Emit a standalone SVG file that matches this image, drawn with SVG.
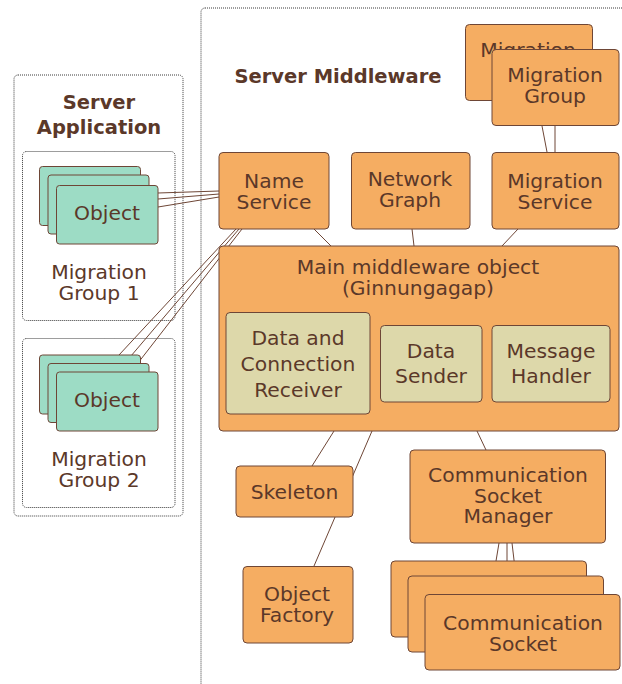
<svg xmlns="http://www.w3.org/2000/svg" width="622" height="684" viewBox="0 0 622 684">
  <style>
    text { font-family: "DejaVu Sans", "Liberation Sans", sans-serif; font-size: 20.3px; fill: #5b3829; text-anchor: middle; }
    .title { font-weight: bold; font-size: 19.5px; }
    .frame { fill: none; stroke: #3a3a3a; stroke-width: 1; stroke-dasharray: 1 1; }
    .orange { fill: #f5ad62; stroke: #6e4636; stroke-width: 1; }
    .mint { fill: #9ddcc5; stroke: #6e4636; stroke-width: 1; }
    .khaki { fill: #ddd8aa; stroke: #6e4636; stroke-width: 1; }
    .link { stroke: #6e4636; stroke-width: 1; fill: none; }
  </style>

  <!-- containers -->
  <g id="server-application">
    <rect class="frame" x="14" y="75" width="169" height="441" rx="4"/>
    <text class="title" x="99" y="109">Server</text>
    <text class="title" x="99" y="134">Application</text>
  </g>
  <g id="migration-group-1">
    <rect class="frame" x="22.5" y="151.5" width="152.5" height="169" rx="4"/>
    <text x="99" y="279">Migration</text>
    <text x="99" y="299.5">Group 1</text>
  </g>
  <g id="migration-group-2">
    <rect class="frame" x="22.5" y="338.5" width="152.5" height="169" rx="4"/>
    <text x="99" y="466">Migration</text>
    <text x="99" y="486.5">Group 2</text>
  </g>
  <g id="server-middleware">
    <rect class="frame" x="201" y="8" width="440" height="700" rx="4"/>
    <text class="title" x="338" y="83">Server Middleware</text>
  </g>

  <!-- connectors -->
  <g id="connectors">
    <line class="link" x1="158" y1="193" x2="219" y2="191"/>
    <line class="link" x1="158" y1="199" x2="219" y2="194"/>
    <line class="link" x1="158" y1="207" x2="219" y2="197"/>
    <line class="link" x1="236" y1="229" x2="119" y2="355"/>
    <line class="link" x1="239" y1="229" x2="125" y2="363"/>
    <line class="link" x1="242" y1="229" x2="131" y2="372"/>
    <line class="link" x1="314" y1="229" x2="331" y2="246"/>
    <line class="link" x1="412" y1="229" x2="414" y2="246"/>
    <line class="link" x1="518" y1="229" x2="502" y2="246"/>
    <line class="link" x1="542" y1="126" x2="547" y2="152"/>
    <line class="link" x1="555" y1="126" x2="555" y2="152"/>
    <line class="link" x1="334" y1="431" x2="312" y2="466"/>
    <line class="link" x1="372" y1="431" x2="314" y2="566"/>
    <line class="link" x1="477" y1="431" x2="486" y2="450"/>
    <line class="link" x1="499" y1="543" x2="496" y2="561"/>
    <line class="link" x1="507" y1="543" x2="507" y2="576"/>
    <line class="link" x1="512" y1="543" x2="518" y2="594"/>
  </g>

  <!-- objects in migration group 1 -->
  <g id="objects-1">
    <rect class="mint" x="39.5" y="166.5" width="101" height="59" rx="3"/>
    <rect class="mint" x="48" y="175" width="101" height="59" rx="3"/>
    <rect class="mint" x="56.5" y="185.5" width="101.5" height="58.5" rx="3"/>
    <text x="107" y="220">Object</text>
  </g>

  <!-- objects in migration group 2 -->
  <g id="objects-2">
    <rect class="mint" x="39.5" y="355" width="101" height="59" rx="3"/>
    <rect class="mint" x="48" y="363.5" width="101" height="59" rx="3"/>
    <rect class="mint" x="56.5" y="372" width="101.5" height="59" rx="3"/>
    <text x="107" y="407">Object</text>
  </g>

  <g id="migration-group">
    <rect class="orange" x="465.5" y="24.5" width="127" height="76" rx="4"/>
    <text x="528" y="57">Migration</text>
    <rect class="orange" x="492" y="49.5" width="127" height="76" rx="4"/>
    <text x="555" y="82">Migration</text>
    <text x="555" y="103">Group</text>
  </g>

  <g id="name-service">
    <rect class="orange" x="219" y="152.5" width="110" height="76.5" rx="4"/>
    <text x="274" y="188">Name</text>
    <text x="274" y="208.5">Service</text>
  </g>

  <g id="network-graph">
    <rect class="orange" x="351.5" y="152.5" width="118.5" height="76.5" rx="4"/>
    <text x="410" y="186">Network</text>
    <text x="410" y="206.5">Graph</text>
  </g>

  <g id="migration-service">
    <rect class="orange" x="492" y="152.5" width="127" height="76.5" rx="4"/>
    <text x="555" y="188">Migration</text>
    <text x="555" y="208.5">Service</text>
  </g>

  <g id="main-middleware">
    <rect class="orange" x="219" y="246" width="400" height="185" rx="4"/>
    <text x="418" y="274">Main middleware object</text>
    <text x="418" y="294.5">(Ginnungagap)</text>
  </g>

  <g id="data-connection-receiver">
    <rect class="khaki" x="226" y="312.5" width="144" height="101.5" rx="4"/>
    <text x="298" y="345">Data and</text>
    <text x="298" y="371">Connection</text>
    <text x="298" y="397">Receiver</text>
  </g>

  <g id="data-sender">
    <rect class="khaki" x="380.5" y="325.5" width="101.5" height="76.5" rx="4"/>
    <text x="431" y="358">Data</text>
    <text x="431" y="383">Sender</text>
  </g>

  <g id="message-handler">
    <rect class="khaki" x="492" y="325.5" width="118" height="76.5" rx="4"/>
    <text x="551" y="358">Message</text>
    <text x="551" y="383">Handler</text>
  </g>

  <g id="skeleton">
    <rect class="orange" x="236" y="466" width="117" height="51" rx="4"/>
    <text x="294.5" y="499">Skeleton</text>
  </g>

  <g id="object-factory">
    <rect class="orange" x="243" y="566.5" width="110" height="76.5" rx="4"/>
    <text x="297" y="601">Object</text>
    <text x="297" y="621.5">Factory</text>
  </g>

  <g id="communication-socket-manager">
    <rect class="orange" x="410" y="450" width="195.5" height="93" rx="4"/>
    <text x="508" y="482">Communication</text>
    <text x="508" y="502.5">Socket</text>
    <text x="508" y="523">Manager</text>
  </g>

  <g id="communication-sockets">
    <rect class="orange" x="391" y="561" width="195.5" height="76" rx="4"/>
    <rect class="orange" x="408" y="576" width="195.5" height="76" rx="4"/>
    <rect class="orange" x="425" y="594.5" width="195" height="75.5" rx="4"/>
    <text x="523" y="630">Communication</text>
    <text x="523" y="650.5">Socket</text>
  </g>
</svg>
